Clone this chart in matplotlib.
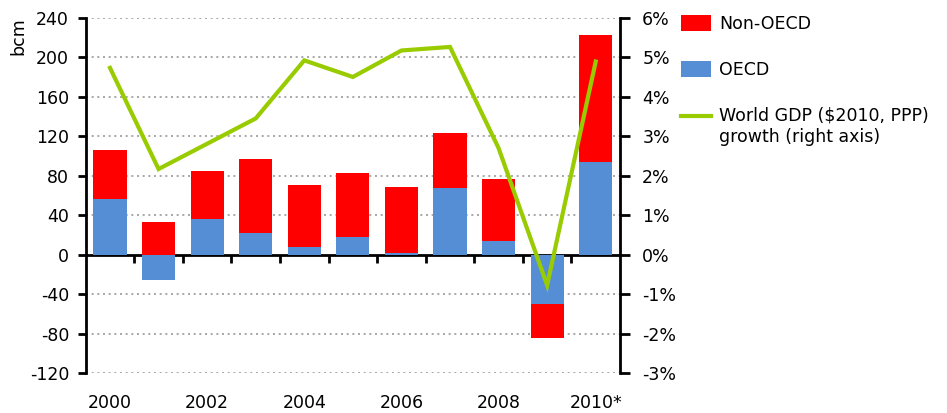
import numpy as np
import matplotlib
matplotlib.use("Agg")
import matplotlib.pyplot as plt
from matplotlib.patches import Patch
from matplotlib.lines import Line2D
from matplotlib.ticker import FuncFormatter
from matplotlib.legend_handler import HandlerLine2D

years = ["2000", "2001", "2002", "2003", "2004", "2005", "2006", "2007", "2008", "2009", "2010*"]
oecd = [56, -26, 36, 22, 8, 18, 2, 68, 14, -50, 94]
non_oecd = [50, 33, 49, 75, 63, 65, 67, 55, 63, -34, 128]
gdp_growth = [4.73, 2.17, 2.81, 3.45, 4.92, 4.50, 5.17, 5.26, 2.70, -0.77, 4.89]
left_ticks = [-120, -80, -40, 0, 40, 80, 120, 160, 200, 240]
right_ticks = [-3, -2, -1, 0, 1, 2, 3, 4, 5, 6]

RED = "#FF0000"
BLUE = "#558ED5"
GREEN = "#99CC00"
FS = 12.5

plt.rcParams['font.family'] = ['DejaVu Sans']

fig = plt.figure(figsize=(9.47, 4.13), dpi=100)
ax = fig.add_axes([85.7 / 947, 1 - 373.3 / 413, (620 - 85.7) / 947, (373.3 - 17.7) / 413])
x = np.arange(len(years))
oecd_a = np.array(oecd, dtype=float)
non_a = np.array(non_oecd, dtype=float)
bottom = np.where(np.sign(oecd_a) == np.sign(non_a), oecd_a, 0)

ax.bar(x, oecd_a, width=0.68, color=BLUE, zorder=2)
ax.bar(x, non_a, bottom=bottom, width=0.68, color=RED, zorder=2)

ax.set_xlim(-0.5, 10.5)
ax.set_ylim(-120, 240)
ax.set_yticks(left_ticks)
ax.set_yticklabels([str(t) for t in left_ticks])
for t in left_ticks:
    if t != 0:
        ax.axhline(t, color="#999999", lw=1.2, ls=(0, (1.2, 2.2)), zorder=1)

ax.spines['top'].set_visible(False)
ax.spines['right'].set_visible(False)
ax.spines['bottom'].set_visible(False)
ax.spines['left'].set_linewidth(2)
ax.tick_params(axis='y', direction='out', length=6, width=2, labelsize=FS, pad=6)

ax.set_xticks(x[::2])
ax.set_xticklabels(years[::2])
ax.tick_params(axis='x', length=0, labelsize=FS, pad=15)

sec = ax.secondary_xaxis(1 / 3)
sec.set_xticks(np.arange(0.5, 10, 1.0))
sec.set_xticklabels([])
sec.tick_params(direction='out', length=6, width=2)
sec.spines['bottom'].set_linewidth(2)

ax.set_ylabel("bcm", fontsize=FS, loc='top', labelpad=2)

ax2 = ax.twinx()
ax2.set_ylim(-3, 6)
ax2.set_yticks(right_ticks)
ax2.yaxis.set_major_formatter(FuncFormatter(lambda v, p: f"{int(round(v))}%"))
ax2.plot(x, gdp_growth, color=GREEN, lw=3, zorder=3, solid_joinstyle='miter')
for s in ['top', 'left', 'bottom']:
    ax2.spines[s].set_visible(False)
ax2.spines['right'].set_linewidth(2)
ax2.tick_params(axis='y', direction='out', length=7, width=2, labelsize=FS, pad=9)


class FirstLineHandler(HandlerLine2D):
    def create_artists(self, legend, orig_handle, xdescent, ydescent, width, height, fontsize, trans):
        arts = super().create_artists(legend, orig_handle, xdescent, ydescent, width, height, fontsize, trans)
        for a in arts:
            yd = np.asarray(a.get_ydata(), dtype=float)
            a.set_ydata(yd + 7.5)
        return arts


gdp_handle = Line2D([0], [0], color=GREEN, lw=3)
handles = [Patch(facecolor=RED), Patch(facecolor=BLUE), gdp_handle]
labels = ["Non-OECD", "OECD", "World GDP ($2010, PPP)\ngrowth (right axis)"]
fig.legend(handles, labels, loc='upper left', bbox_to_anchor=(676 / 947, 1 - 10 / 413),
           frameon=False, fontsize=FS, handlelength=1.7, handleheight=1.0,
           handletextpad=0.5, labelspacing=1.6, borderaxespad=0, borderpad=0.3,
           handler_map={gdp_handle: FirstLineHandler()})

fig.savefig("out.png", dpi=100)
